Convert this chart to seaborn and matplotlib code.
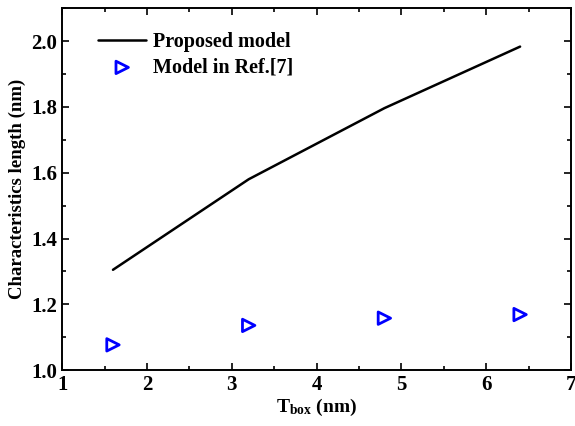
import matplotlib
matplotlib.use("Agg")
import matplotlib.pyplot as plt
import seaborn as sns
import pandas as pd
from matplotlib.ticker import MultipleLocator

# Characteristic length versus buried-oxide thickness
t_box = [1.6, 3.2, 4.8, 6.4]
proposed = [1.305, 1.580, 1.796, 1.983]
ref7 = [1.077, 1.136, 1.158, 1.169]

df = pd.DataFrame({"t_box": t_box, "proposed": proposed, "ref7": ref7})

sns.set_style("ticks")
plt.rcParams.update({
    "font.family": ["Liberation Serif", "DejaVu Serif"],
    "font.weight": "bold",
    "axes.labelweight": "bold",
    "text.color": "black",
    "axes.labelcolor": "black",
    "axes.edgecolor": "black",
    "xtick.color": "black",
    "ytick.color": "black",
    "mathtext.fontset": "custom",
    "mathtext.rm": "Liberation Serif:bold",
    "mathtext.bf": "Liberation Serif:bold",
    "mathtext.it": "Liberation Serif:bold",
})

fig = plt.figure(figsize=(5.75, 4.26), dpi=100)
ax = fig.add_axes([0.108, 0.131, 0.885, 0.85])

sns.lineplot(data=df, x="t_box", y="proposed", ax=ax, color="black", lw=1.8,
             label="Proposed model")
sns.scatterplot(data=df, x="t_box", y="ref7", ax=ax, marker=">", s=80,
                facecolors="none", edgecolor="#0000ff", linewidth=2.0,
                label="Model in Ref.[7]")

ax.set_xlim(1, 7)
ax.set_ylim(1.0, 2.1)
ax.xaxis.set_major_locator(MultipleLocator(1))
ax.xaxis.set_minor_locator(MultipleLocator(0.5))
ax.yaxis.set_major_locator(MultipleLocator(0.2))
ax.yaxis.set_minor_locator(MultipleLocator(0.1))
ax.tick_params(which="both", direction="in", top=True, right=True, width=1.2)
ax.tick_params(which="major", length=5, labelsize=15)
ax.tick_params(which="minor", length=3)
ax.tick_params(axis="x", labeltop=False)
ax.tick_params(axis="y", labelright=False)
for lbl in ax.get_xticklabels() + ax.get_yticklabels():
    lbl.set_fontweight("bold")
for sp in ax.spines.values():
    sp.set_linewidth(1.4)

ax.set_xlabel(r"T$_{\mathrm{box}}$ (nm)", fontsize=14, fontweight="bold", labelpad=1)
ax.set_ylabel("Characteristics length (nm)", fontsize=13.5, fontweight="bold", labelpad=4)

ax.legend(loc="upper left", frameon=False, bbox_to_anchor=(0.035, 0.985),
          handlelength=2.4, handletextpad=0.35, labelspacing=0.3,
          prop={"weight": "bold", "size": 14.5})

fig.savefig("out.png", dpi=100)
